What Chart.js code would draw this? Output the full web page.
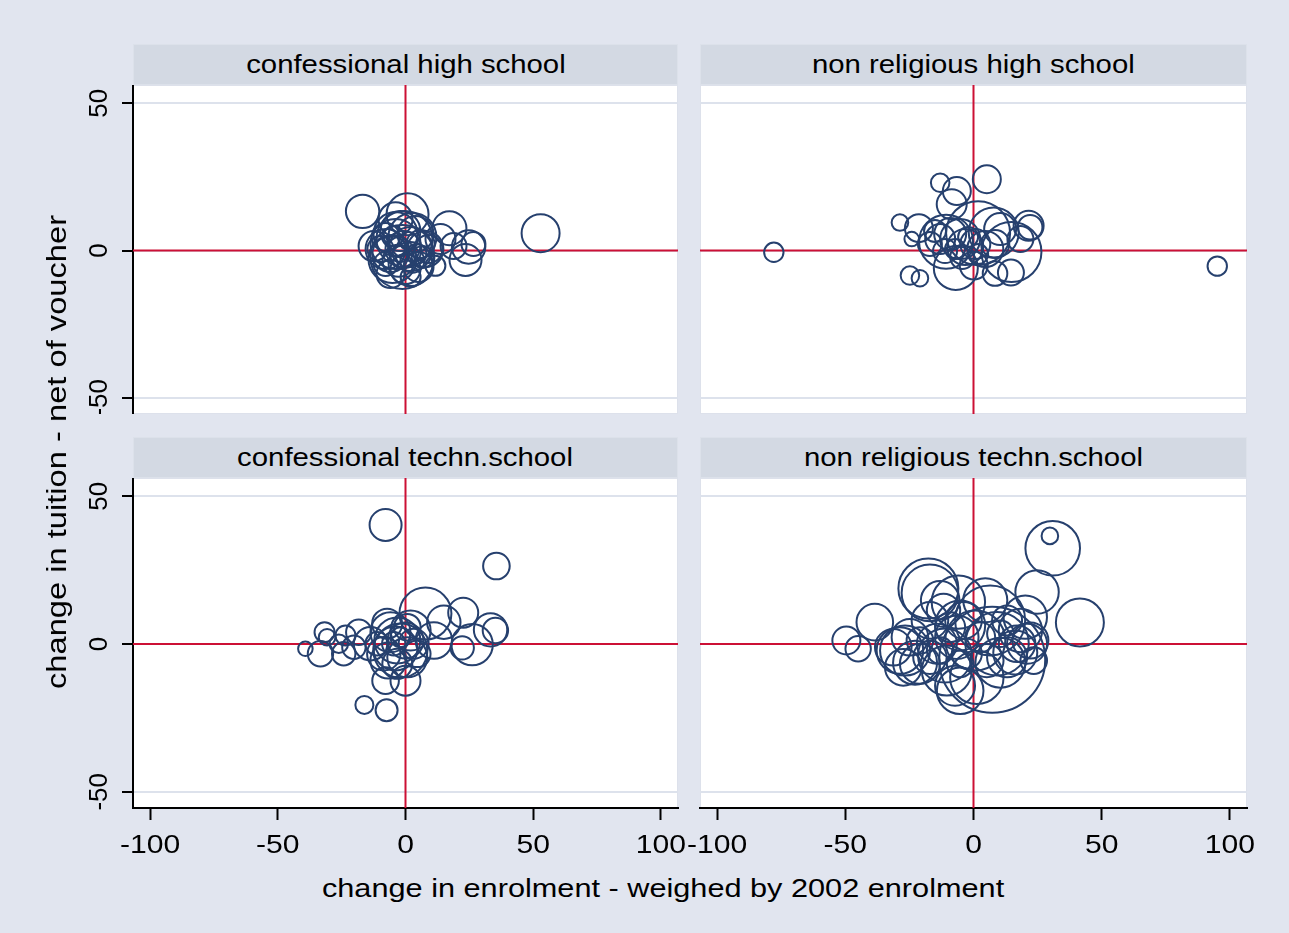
<!DOCTYPE html>
<html>
<head>
<meta charset="utf-8">
<script src="https://cdn.jsdelivr.net/npm/chart.js@4.4.1/dist/chart.umd.min.js"></script>
<style>
  body { margin: 0; width: 1289px; height: 933px; background: #e1e5ef; position: relative; overflow: hidden;
         font-family: "Liberation Sans", Arial, sans-serif; color: #000; }
  canvas { position: absolute; }
  .strip { position: absolute; box-sizing: border-box; background: #d3d9e3; border: 1px solid #dce1ea;
           text-align: center; font-size: 25.5px; line-height: 39px; white-space: nowrap; }
  .strip span { display: inline-block; transform: scaleX(1.15); }
  .xtitle span { display: inline-block; transform: scaleX(1.18); }
  .xtitle { position: absolute; left: 163px; width: 1000px; top: 873px; text-align: center;
            font-size: 26px; line-height: 30px; white-space: nowrap; }
  .ytitle { position: absolute; left: 57px; top: 452px; font-size: 27px; line-height: 30px; white-space: nowrap;
            transform: translate(-50%, -50%) rotate(-90deg) scaleX(1.21); }
</style>
</head>
<body>
<div class="strip" style="left:133px;top:44px;width:545px;height:41px;"><span id="t1"></span></div>
<div class="strip" style="left:700px;top:44px;width:547px;height:41px;"><span id="t2"></span></div>
<div class="strip" style="left:133px;top:437px;width:545px;height:41px;"><span id="t3"></span></div>
<div class="strip" style="left:700px;top:437px;width:547px;height:41px;"><span id="t4"></span></div>
<canvas id="c1" width="640" height="329" style="left:60px;top:85px;"></canvas>
<canvas id="c2" width="609" height="329" style="left:680px;top:85px;"></canvas>
<canvas id="c3" width="640" height="390" style="left:60px;top:478px;"></canvas>
<canvas id="c4" width="609" height="390" style="left:680px;top:478px;"></canvas>
<div class="xtitle"><span>change in enrolment - weighed by 2002 enrolment</span></div>
<div class="ytitle">change in tuition - net of voucher</div>
<script>
const panelTitles = ["confessional high school", "non religious high school",
                     "confessional techn.school", "non religious techn.school"];
const xTicks = [-100, -50, 0, 50, 100];
const yTicks = [-50, 0, 50];
const xRange = [-106.7, 106.7];
const yRange = [-55.5, 56.2];

// confessional high school
const chsX = [-16.8, 52.9, -1.2, -0.4, -3.9, 2.0, -2.0, -5.9, 3.9, -2.7, 0.8, -3.9, 5.9, -7.8, 0.0, 2.7, -2.7,
              1.2, -2.0, -4.7, 4.3, -9.8, -12.5, 17.2, 24.7, 23.5, 26.6, 18.8, 11.7, 9.0, 6.7, -7.8, 2.0,
              -3.9, 2.7, -5.1, 2.0, -0.8, -7.8, 7.8, 5.1, -5.9, 13.7];
const chsY = [13.3, 5.9, -2.2, 3.9, 2.2, 0.5, 6.6, -1.2, 5.6, -3.5, 12.3, 10.6, 2.2, 4.6, -6.3, -3.5, 1.2,
              3.2, -1.2, 4.9, -1.2, 0.5, 1.5, 7.6, 1.2, -3.2, 2.2, 1.5, -5.2, 0.5, -2.2, -4.6, -9.0,
              5.6, 4.6, -2.9, -4.6, 0.5, 0.5, 0.5, -5.6, -8.0, 3.9];
const chsEnrol = [279, 361, 1024, 784, 625, 484, 400, 324, 324, 256, 441, 289, 196, 196, 225, 144, 100,
                  81, 64, 100, 100, 169, 225, 289, 279, 256, 144, 169, 100, 196, 121, 144, 100,
                  484, 576, 576, 484, 324, 400, 324, 225, 196, 225];

// non religious high school
const nrhsX = [-77.9, 95.1, 5.2, -13.0, -6.5, -8.5, -28.7, -21.3, -24.1, -24.8, -20.9, 21.5, 14.8, -6.9, 14.6,
               8.4, 0.1, 1.8, 7.9, 22.1, -10.7, -5.2, -3.2, -9.1, 0.7, 4.6, -13.0, -17.0, -7.2, -2.1, 8.5,
               10.4, -11.1, -4.4, 1.8, -15.0, 18.3];
const nrhsY = [-0.6, -5.3, 24.2, 23.0, 20.2, 15.7, 9.5, 7.6, 3.9, -8.5, -9.4, 8.4, -0.5, -5.9, -7.5,
               -7.8, -5.1, 5.9, 6.1, 7.9, 3.0, 3.9, 1.2, 5.6, 2.2, 0.5, 3.9, 2.2, 0.5, 4.6, 2.2,
               7.3, -0.2, -2.2, -1.2, 6.6, 3.9];
const nrhsEnrol = [94, 94, 196, 86, 196, 225, 69, 196, 53, 86, 69, 225, 900, 484, 169,
                   151, 196, 1024, 625, 151, 729, 400, 324, 256, 225, 324, 225, 144, 100, 100, 196,
                   256, 144, 144, 100, 121, 169];

// confessional techn.school
const ctsX = [-7.8, 35.6, -16.1, -7.4, -39.2, -33.3, -31.7, -30.7, -24.2, -23.5, -18.3, -20.2, -26.1, 7.8,
              22.6, 15.0, 33.3, 35.2, 26.1, 22.2, 11.1, -3.2, -2.0, -5.9, 0.7, -7.8, 0.0, -8.5, 3.2, -4.6,
              -2.0, -11.1, -13.7, 4.6, -7.2, 0.7, -3.2, -3.9, 0.0, -6.7, 2.0];
const ctsY = [40.3, 26.4, -20.6, -22.4, -1.6, -3.3, 4.0, 2.3, -3.3, 2.9, 4.0, -1.1, 0.1, 10.3,
              10.6, 7.4, 4.8, 4.6, -0.2, -1.3, 1.2, 1.2, -2.2, 4.0, -4.5, -12.4, -12.4, -3.3, 0.1, 0.1,
              2.3, 0.1, 0.1, -3.3, 6.9, 5.7, -6.7, -1.5, 1.2, -5.6, 4.6];
const ctsEnrol = [256, 177, 81, 121, 53, 161, 100, 69, 137, 100, 161, 137, 86, 676,
                  225, 279, 279, 161, 428, 137, 335, 529, 729, 400, 400, 177, 225, 279, 225, 137,
                  100, 137, 279, 177, 225, 177, 225, 484, 324, 324, 400];

// non religious techn.school
const nrtsX = [30.9, 29.8, 24.8, 20.2, 41.5, -49.6, -45.0, -38.5, -17.6, -17.0, -13.0, -5.9, 7.3, 6.5, 9.2,
               1.3, -5.2, -10.4, -31.3, -28.7, -24.8, -20.9, -17.0, -14.3, -6.5, -3.9, 13.1, 17.0, 18.3,
               20.9, 5.2, -11.7, -17.0, -2.6, -9.1, 2.6, -27.4, -5.2, 10.5, -13.0, -20.9, 23.5, 13.1,
               -26.7, -22.8, -11.1, 0.7, 10.5, 16.3, -5.2, 4.6, -7.2, 22.2];
const nrtsY = [32.4, 36.6, 17.6, 9.1, 7.3, 1.2, -1.6, 7.4, 18.8, 17.3, 14.8, 14.2, -5.3, 8.0, 0.1,
               -11.3, -15.8, -9.0, -1.1, -2.2, 2.3, -6.7, 8.0, 0.1, 2.3, 8.0, -4.5, 0.1, 4.6,
               0.1, -5.6, 11.4, -4.5, -3.3, 5.7, 2.3, -7.9, -6.7, 3.5, -2.2, 1.2, -5.6, 8.0,
               -2.2, -6.3, -3.9, 1.2, -6.3, -2.9, 6.3, 14.8, -14.1, 1.2];
const nrtsEnrol = [745, 69, 471, 471, 576, 196, 161, 335, 900, 801, 372, 713, 2809, 1225, 1005,
                   713, 543, 625, 335, 543, 335, 400, 335, 400, 471, 335, 400, 335, 471,
                   400, 279, 279, 279, 225, 225, 225, 335, 177, 177, 177, 177, 177, 225,
                   625, 484, 729, 900, 625, 484, 625, 484, 400, 324];

const sizeScale = 1.0; // marker radius (px) = sqrt(enrolment) * sizeScale
const markerColor = "#26406e";
const refLineColor = "#cc1035";

// white plot region, reference lines at 0, rotated/stretched tick labels
const panelDeco = {
  id: "panelDeco",
  beforeDraw(chart) {
    const { ctx, chartArea: a } = chart;
    ctx.save();
    ctx.fillStyle = "#ffffff";
    ctx.fillRect(a.left, a.top, a.right - a.left, a.bottom - a.top);
    ctx.strokeStyle = "#dde1eb";
    ctx.lineWidth = 1;
    ctx.strokeRect(a.left + 0.5, a.top + 0.5, a.right - a.left - 1, a.bottom - a.top - 1);
    ctx.restore();
  },
  beforeDatasetsDraw(chart) {
    const { ctx, chartArea: a, scales } = chart;
    const x0 = scales.x.getPixelForValue(0);
    const y0 = scales.y.getPixelForValue(0);
    ctx.save();
    ctx.strokeStyle = refLineColor;
    ctx.lineWidth = 2;
    ctx.beginPath();
    ctx.moveTo(x0, a.top); ctx.lineTo(x0, a.bottom);
    ctx.moveTo(a.left, y0); ctx.lineTo(a.right, y0);
    ctx.stroke();
    ctx.restore();
  },
  afterDraw(chart, args, opts) {
    const ctx = chart.ctx;
    ctx.save();
    ctx.fillStyle = "#000";
    ctx.textAlign = "center";
    ctx.textBaseline = "middle";
    if (opts.showX) {
      const sx = chart.scales.x;
      ctx.font = '25.5px "Liberation Sans", Arial, sans-serif';
      sx.ticks.forEach(t => {
        ctx.save();
        ctx.translate(sx.getPixelForValue(t.value), sx.top + 38);
        ctx.scale(1.18, 1);
        ctx.fillText(String(t.value), 0, 0);
        ctx.restore();
      });
    }
    if (opts.showY) {
      const sy = chart.scales.y;
      ctx.font = '26px "Liberation Sans", Arial, sans-serif';
      sy.ticks.forEach(t => {
        ctx.save();
        ctx.translate(sy.right - 33, sy.getPixelForValue(t.value));
        ctx.rotate(-Math.PI / 2);
        ctx.fillText(String(t.value), 0, 0);
        ctx.restore();
      });
    }
    ctx.restore();
  }
};

function buildPanel(canvasId, xs, ys, ws, left, bottom) {
  const points = xs.map((x, i) => ({ x: x, y: ys[i], r: Math.sqrt(ws[i]) * sizeScale }));
  return new Chart(document.getElementById(canvasId), {
    type: "bubble",
    data: {
      datasets: [{
        data: points,
        borderColor: markerColor,
        backgroundColor: "rgba(0,0,0,0)",
        borderWidth: 2,
        hoverRadius: 0,
      }],
    },
    options: {
      responsive: false,
      animation: false,
      events: [],
      layout: { autoPadding: false, padding: { right: left ? 22 : 42, top: 0, bottom: 0, left: 0 } },
      plugins: {
        legend: { display: false },
        tooltip: { enabled: false },
        panelDeco: { showX: bottom, showY: left },
      },
      scales: {
        x: {
          type: "linear",
          min: xRange[0],
          max: xRange[1],
          display: bottom,
          afterBuildTicks: s => { s.ticks = xTicks.map(v => ({ value: v })); },
          afterFit: s => { s.height = bottom ? 60 : 0; },
          ticks: { display: false },
          grid: { color: "rgba(0,0,0,0)", drawTicks: true, tickLength: 12, tickColor: "#000", tickWidth: 2 },
          border: { display: true, color: "#000", width: 2 },
        },
        y: {
          type: "linear",
          min: yRange[0],
          max: yRange[1],
          afterBuildTicks: s => { s.ticks = yTicks.map(v => ({ value: v })); },
          afterFit: s => { s.width = left ? 73 : 20; },
          ticks: { display: false },
          grid: { color: "#dde2ec", lineWidth: 2, drawTicks: left, tickLength: 11, tickColor: "#000", tickWidth: 2 },
          border: { display: left, color: "#000", width: 2 },
        },
      },
    },
    plugins: [panelDeco],
  });
}

panelTitles.forEach((t, i) => { document.getElementById("t" + (i + 1)).textContent = t; });

buildPanel("c1", chsX, chsY, chsEnrol, true, false);
buildPanel("c2", nrhsX, nrhsY, nrhsEnrol, false, false);
buildPanel("c3", ctsX, ctsY, ctsEnrol, true, true);
buildPanel("c4", nrtsX, nrtsY, nrtsEnrol, false, true);
</script>
</body>
</html>
